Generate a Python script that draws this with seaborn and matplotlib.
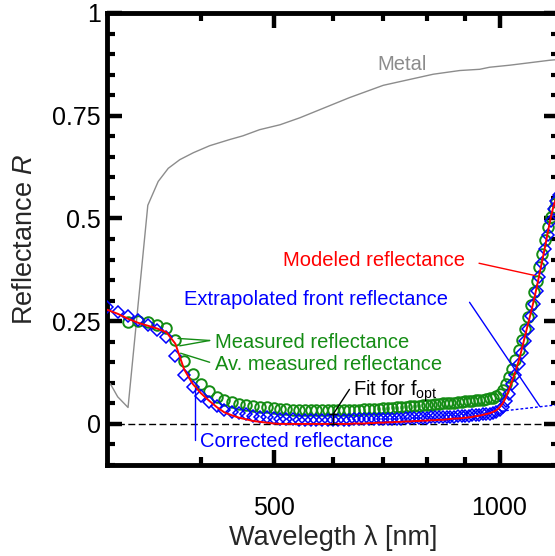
import numpy as np
import pandas as pd
import matplotlib
matplotlib.use("Agg")
import matplotlib.pyplot as plt
import seaborn as sns
from matplotlib.ticker import FixedLocator, FixedFormatter, NullFormatter, MultipleLocator

# ---------------- data ----------------
# spectra sampled every 10 nm
wl = np.arange(300, 1201, 10)
wl_meas = np.arange(320, 1201, 10)

modeled = [
    0.278, 0.268, 0.256, 0.246, 0.239, 0.232, 0.223, 0.195, 0.133, 0.098,
    0.075, 0.057, 0.041, 0.028, 0.021, 0.015, 0.011, 0.007, 0.005, 0.003,
    0.001, 0.000, 0.000, 0.000, 0.000, 0.000, 0.000, 0.000, 0.000, 0.000,
    0.000, 0.000, 0.000, 0.000, 0.001, 0.001, 0.001, 0.002, 0.002, 0.003,
    0.003, 0.004, 0.004, 0.005, 0.005, 0.006, 0.006, 0.007, 0.007, 0.008,
    0.008, 0.009, 0.009, 0.010, 0.010, 0.011, 0.012, 0.013, 0.013, 0.014,
    0.015, 0.016, 0.017, 0.019, 0.020, 0.022, 0.024, 0.026, 0.029, 0.033,
    0.040, 0.050, 0.065, 0.085, 0.106, 0.128, 0.152, 0.180, 0.210, 0.240,
    0.268, 0.298, 0.330, 0.364, 0.398, 0.432, 0.468, 0.502, 0.530, 0.550,
    0.564,
]

corrected = [
    0.285, 0.272, 0.262, 0.252, 0.240, 0.228, 0.212, 0.165, 0.120, 0.090,
    0.069, 0.054, 0.043, 0.035, 0.030, 0.026, 0.023, 0.020, 0.018, 0.016,
    0.015, 0.013, 0.012, 0.011, 0.010, 0.010, 0.009, 0.009, 0.009, 0.009,
    0.009, 0.010, 0.010, 0.010, 0.011, 0.011, 0.011, 0.012, 0.012, 0.012,
    0.012, 0.013, 0.013, 0.013, 0.013, 0.014, 0.014, 0.014, 0.015, 0.015,
    0.015, 0.016, 0.016, 0.016, 0.017, 0.017, 0.018, 0.018, 0.019, 0.019,
    0.020, 0.020, 0.021, 0.021, 0.022, 0.023, 0.024, 0.025, 0.027, 0.030,
    0.034, 0.042, 0.055, 0.074, 0.096, 0.120, 0.145, 0.172, 0.202, 0.232,
    0.262, 0.292, 0.323, 0.357, 0.391, 0.425, 0.460, 0.494, 0.522, 0.542,
    0.556,
]

av_measured = [
    0.249, 0.250, 0.247, 0.241, 0.233, 0.205, 0.153, 0.121, 0.096, 0.080,
    0.066, 0.058, 0.053, 0.049, 0.046, 0.044, 0.042, 0.040, 0.038, 0.037,
    0.036, 0.035, 0.034, 0.034, 0.033, 0.033, 0.033, 0.033, 0.033, 0.034,
    0.034, 0.034, 0.035, 0.035, 0.036, 0.036, 0.037, 0.037, 0.038, 0.039,
    0.039, 0.040, 0.041, 0.042, 0.043, 0.044, 0.044, 0.045, 0.046, 0.047,
    0.048, 0.049, 0.050, 0.050, 0.051, 0.052, 0.053, 0.054, 0.055, 0.055,
    0.056, 0.057, 0.058, 0.059, 0.060, 0.062, 0.064, 0.067, 0.072, 0.082,
    0.096, 0.114, 0.134, 0.156, 0.179, 0.204, 0.231, 0.260, 0.290, 0.320,
    0.349, 0.382, 0.414, 0.447, 0.478, 0.503, 0.524, 0.540, 0.552,
]

metal_wl = [303, 310, 320, 340, 351, 362, 375, 391, 411, 437, 455, 479,
            510, 542, 631, 700, 816, 885, 941, 970, 1032, 1097, 1166, 1200]
metal_R = [0.098, 0.066, 0.040, 0.532, 0.590, 0.622, 0.643, 0.660, 0.677,
           0.692, 0.701, 0.716, 0.728, 0.745, 0.794, 0.824, 0.851, 0.860,
           0.863, 0.868, 0.873, 0.879, 0.885, 0.887]

extrap_wl = [1005, 1200]
extrap_R = [0.031, 0.047]

fit_wl = 600
fit_lo, fit_hi = 0.0, 0.023

df_model = pd.DataFrame({"wl": wl, "R": modeled})
df_corr = pd.DataFrame({"wl": wl, "R": corrected})
df_meas = pd.DataFrame({"wl": wl_meas, "R": av_measured})
df_metal = pd.DataFrame({"wl": metal_wl, "R": metal_R})
df_extrap = pd.DataFrame({"wl": extrap_wl, "R": extrap_R})

# ---------------- style ----------------
sns.set_style("ticks")
plt.rcParams["font.family"] = ["Liberation Sans", "DejaVu Sans"]
plt.rcParams["mathtext.fontset"] = "custom"
plt.rcParams["mathtext.rm"] = "Liberation Sans"
plt.rcParams["mathtext.it"] = "Liberation Sans:italic"
plt.rcParams["mathtext.bf"] = "Liberation Sans:bold"

GREEN = "#148c14"
BLUE = "#0000ff"
RED = "#ff0000"
GRAY = "#8c8c8c"

fig = plt.figure(figsize=(5.55, 5.56), dpi=100)
ax = fig.add_axes([107 / 555, 1 - 465 / 556, 452 / 555, 452 / 556])

ax.axhline(0, color="black", lw=1.0, ls=(0, (5, 2.5)), zorder=1)

sns.lineplot(data=df_metal, x="wl", y="R", ax=ax, color=GRAY, lw=1.0,
             estimator=None, sort=False, zorder=2)
sns.lineplot(data=df_extrap, x="wl", y="R", ax=ax, color=BLUE, lw=1.0,
             ls=(0, (2, 1.5)), estimator=None, zorder=2)
sns.lineplot(data=df_meas, x="wl", y="R", ax=ax, estimator=None,
             linestyle="", marker="o", markersize=7.6,
             markerfacecolor="none", markeredgecolor=GREEN,
             markeredgewidth=1.4, color=GREEN, zorder=3)
sns.lineplot(data=df_corr, x="wl", y="R", ax=ax, estimator=None,
             linestyle="", marker="D", markersize=6.0,
             markerfacecolor="none", markeredgecolor=BLUE,
             markeredgewidth=1.1, color=BLUE, zorder=4)
sns.lineplot(data=df_model, x="wl", y="R", ax=ax, color=RED, lw=1.4,
             estimator=None, zorder=5)

ax.errorbar([fit_wl], [(fit_lo + fit_hi) / 2], yerr=[(fit_hi - fit_lo) / 2],
            fmt="none", ecolor="black", elinewidth=1.0, capsize=3,
            capthick=1.0, zorder=6)

# ---------------- annotations ----------------
FS = 14.5
ax.text(688, 0.875, "Metal", color=GRAY, fontsize=FS, ha="left", va="center")
ax.text(514, 0.398, "Modeled reflectance", color=RED, fontsize=FS,
        ha="left", va="center")
ax.plot([939, 1115], [0.391, 0.361], color=RED, lw=1.0, zorder=6)
ax.text(380, 0.302, "Extrapolated front reflectance", color=BLUE,
        fontsize=FS, ha="left", va="center")
ax.plot([912, 1131], [0.296, 0.043], color=BLUE, lw=1.0, zorder=6)
ax.text(418, 0.198, "Measured reflectance", color=GREEN, fontsize=FS,
        ha="left", va="center")
ax.plot([411, 373], [0.203, 0.208], color=GREEN, lw=1.0, zorder=6)
ax.plot([411, 375], [0.203, 0.190], color=GREEN, lw=1.0, zorder=6)
ax.text(418, 0.145, "Av. measured reflectance", color=GREEN, fontsize=FS,
        ha="left", va="center")
ax.plot([411, 376], [0.150, 0.172], color=GREEN, lw=1.0, zorder=6)
ax.text(399, -0.044, "Corrected reflectance", color=BLUE, fontsize=FS,
        ha="left", va="center")
ax.plot([393, 393], [0.088, -0.040], color=BLUE, lw=1.0, zorder=6)
ax.text(638, 0.080, r"Fit for f$_{\mathrm{opt}}$", color="black",
        fontsize=FS, ha="left", va="center")
ax.plot([631, 600], [0.084, 0.023], color="black", lw=1.0, zorder=6)

# ---------------- axes ----------------
ax.set_xscale("log")
ax.set_xlim(300, 1200)
ax.set_ylim(-0.1, 1.0)
ax.xaxis.set_major_locator(FixedLocator([500, 1000]))
ax.xaxis.set_major_formatter(FixedFormatter(["500", "1000"]))
ax.xaxis.set_minor_locator(FixedLocator([400, 600, 700, 800, 900]))
ax.xaxis.set_minor_formatter(NullFormatter())
ax.yaxis.set_major_locator(FixedLocator([0, 0.25, 0.5, 0.75, 1.0]))
ax.yaxis.set_major_formatter(FixedFormatter(["0", "0.25", "0.5", "0.75", "1"]))
ax.yaxis.set_minor_locator(MultipleLocator(0.05))

ax.tick_params(which="major", direction="in", length=11, width=3.2,
               top=True, right=True, labelsize=18, color="black",
               labelcolor="black")
ax.tick_params(which="minor", direction="in", length=6, width=3.0,
               top=True, right=True, color="black")
ax.tick_params(axis="x", which="major", pad=22)
ax.tick_params(axis="y", which="major", pad=4.5)

for sp in ax.spines.values():
    sp.set_linewidth(3.5)
    sp.set_color("black")
    sp.set_visible(True)

ax.set_xlabel("Wavelegth λ [nm]", fontsize=19.5)
ax.set_ylabel(r"Reflectance $\it{R}$", fontsize=19.5)
ax.xaxis.set_label_coords(0.5, -0.161)
ax.xaxis.label.set_va("center")
ax.yaxis.set_label_coords(-0.182, 0.5)
ax.yaxis.label.set_va("center")
ax.yaxis.label.set_ha("center")

fig.savefig("out.png", dpi=100)
